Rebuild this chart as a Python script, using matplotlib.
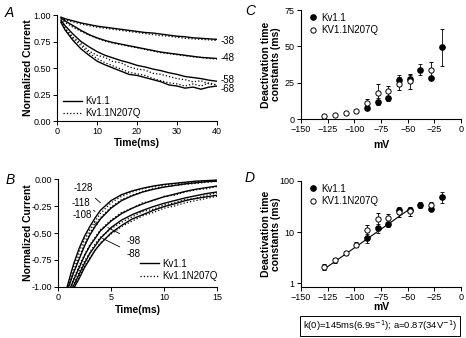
import matplotlib
matplotlib.use('Agg')
import matplotlib.pyplot as plt
from matplotlib.lines import Line2D
from matplotlib.ticker import FixedLocator, NullLocator, FixedFormatter

plt.rcParams['font.family'] = ['Liberation Sans', 'DejaVu Sans']
plt.rcParams['axes.linewidth'] = 0.8

## Panel A: inactivation traces (normalized current vs time)
tA = [1, 2, 4, 6, 8, 10, 12, 14, 16, 18, 20, 22, 24, 26, 28, 30, 32, 34, 36, 38, 40]
a38_kv = [0.98, 0.965, 0.945, 0.925, 0.91, 0.895, 0.885, 0.875, 0.865, 0.855, 0.845, 0.835, 0.83, 0.82, 0.81, 0.80, 0.795, 0.785, 0.78, 0.775, 0.77]
a38_nq = [0.975, 0.955, 0.935, 0.915, 0.90, 0.885, 0.875, 0.865, 0.855, 0.845, 0.835, 0.825, 0.815, 0.805, 0.80, 0.79, 0.78, 0.775, 0.77, 0.765, 0.76]
a48_kv = [0.97, 0.945, 0.90, 0.855, 0.815, 0.785, 0.76, 0.74, 0.725, 0.71, 0.695, 0.68, 0.665, 0.65, 0.64, 0.63, 0.62, 0.61, 0.60, 0.595, 0.59]
a48_nq = [0.965, 0.93, 0.885, 0.845, 0.81, 0.78, 0.755, 0.735, 0.72, 0.705, 0.69, 0.675, 0.66, 0.645, 0.635, 0.625, 0.615, 0.605, 0.60, 0.59, 0.585]
a58_kv = [0.95, 0.90, 0.82, 0.75, 0.70, 0.655, 0.62, 0.595, 0.57, 0.55, 0.525, 0.51, 0.49, 0.475, 0.455, 0.44, 0.42, 0.41, 0.40, 0.385, 0.375]
a58_nq = [0.94, 0.88, 0.79, 0.73, 0.66, 0.62, 0.60, 0.56, 0.55, 0.51, 0.49, 0.48, 0.45, 0.44, 0.42, 0.40, 0.39, 0.37, 0.38, 0.35, 0.34]
a68_kv = [0.93, 0.86, 0.76, 0.68, 0.62, 0.565, 0.53, 0.50, 0.47, 0.44, 0.43, 0.41, 0.39, 0.37, 0.34, 0.33, 0.31, 0.32, 0.30, 0.32, 0.33]
a68_nq = [0.94, 0.87, 0.78, 0.71, 0.64, 0.59, 0.55, 0.52, 0.49, 0.46, 0.445, 0.43, 0.40, 0.38, 0.36, 0.35, 0.33, 0.35, 0.33, 0.36, 0.34]
labelsA = ['-38', '-48', '-58', '-68']
labelsA_y = [0.755, 0.595, 0.39, 0.30]

## Panel B: deactivation tail traces
tB = [0.8, 1, 1.25, 1.5, 2, 2.5, 3, 3.5, 4, 5, 6, 7, 8, 9, 10, 11, 12, 13, 14, 15]
b128_kv = [-1.02, -0.95, -0.86, -0.78, -0.64, -0.53, -0.44, -0.36, -0.29, -0.20, -0.145, -0.11, -0.085, -0.065, -0.05, -0.04, -0.03, -0.02, -0.015, -0.01]
b128_nq = [-1.02, -0.97, -0.89, -0.81, -0.67, -0.56, -0.47, -0.39, -0.32, -0.22, -0.16, -0.12, -0.09, -0.07, -0.055, -0.045, -0.035, -0.025, -0.02, -0.012]
b118_kv = [-1.05, -1.0, -0.93, -0.86, -0.74, -0.62, -0.52, -0.44, -0.37, -0.27, -0.20, -0.155, -0.12, -0.095, -0.075, -0.06, -0.045, -0.035, -0.025, -0.02]
b118_nq = [-1.05, -0.99, -0.92, -0.85, -0.72, -0.60, -0.50, -0.42, -0.36, -0.26, -0.19, -0.15, -0.115, -0.09, -0.07, -0.06, -0.05, -0.04, -0.03, -0.02]
b108_kv = [-1.1, -1.05, -0.99, -0.93, -0.82, -0.71, -0.62, -0.55, -0.48, -0.39, -0.32, -0.27, -0.23, -0.195, -0.165, -0.14, -0.115, -0.095, -0.08, -0.065]
b108_nq = [-1.1, -1.04, -0.98, -0.92, -0.80, -0.70, -0.61, -0.54, -0.47, -0.38, -0.31, -0.27, -0.22, -0.20, -0.16, -0.15, -0.12, -0.10, -0.09, -0.07]
b98_kv = [-1.1, -1.08, -1.03, -0.98, -0.88, -0.78, -0.69, -0.62, -0.55, -0.45, -0.38, -0.33, -0.29, -0.255, -0.225, -0.20, -0.175, -0.155, -0.135, -0.12]
b98_nq = [-1.1, -1.08, -1.02, -0.97, -0.86, -0.76, -0.68, -0.60, -0.54, -0.46, -0.40, -0.35, -0.30, -0.28, -0.24, -0.22, -0.19, -0.18, -0.15, -0.13]
b88_kv = [-1.1, -1.1, -1.06, -1.01, -0.92, -0.82, -0.74, -0.66, -0.60, -0.50, -0.43, -0.37, -0.33, -0.29, -0.255, -0.23, -0.20, -0.18, -0.165, -0.15]
b88_nq = [-1.1, -1.1, -1.05, -1.0, -0.90, -0.81, -0.73, -0.66, -0.59, -0.51, -0.44, -0.39, -0.34, -0.31, -0.27, -0.25, -0.22, -0.20, -0.18, -0.16]
labelsB = ['-128', '-118', '-108', '-98', '-88']
labelsB_txt = [(2.4, -0.08), (2.2, -0.22), (2.3, -0.33), (7.1, -0.57), (7.1, -0.69)]
labelsB_tip = [(4.0, -0.22), (3.5, -0.30), (3.7, -0.42), (4.7, -0.45), (4.2, -0.55)]

## Panels C/D: deactivation time constants vs voltage
v_kv = [-88, -78, -68, -58, -48, -38, -28, -18]
tau_kv = [7.6, 11.9, 14.2, 26.6, 27.5, 34.0, 28.2, 49.3]
err_kv = [1.5, 2.5, 1.5, 4.0, 2.5, 4.0, 1.5, 12.5]
v_nq = [-128, -118, -108, -98, -88, -78, -68, -58, -48, -28]
tau_nq = [2.1, 2.8, 3.9, 5.7, 10.8, 17.9, 19.0, 24.3, 25.9, 33.5]
err_nq = [0.3, 0.3, 0.4, 0.6, 3.0, 6.0, 4.0, 4.6, 5.0, 5.5]
fit_v = [-128, -48]
fit_tau = [1.9, 28.4]
fit_text = 'k(0)=145ms(6.9s$^{-1}$); a=0.87(34V$^{-1}$)'

fig = plt.figure(figsize=(4.66, 3.38), dpi=100)
axA = fig.add_axes([0.1223, 0.642, 0.3434, 0.3136])
axB = fig.add_axes([0.1245, 0.1509, 0.3412, 0.3195])
axC = fig.add_axes([0.6459, 0.6479, 0.3434, 0.3225])
axD = fig.add_axes([0.6459, 0.1509, 0.3434, 0.3136])

tick_fs = 6.5
lab_fs = 7.5
for ax in (axA, axB, axC, axD):
    ax.spines['top'].set_visible(False)
    ax.spines['right'].set_visible(False)
    ax.tick_params(direction='out', length=3, width=0.7, labelsize=tick_fs, pad=1.5)

# A
for kv, nq in [(a38_kv, a38_nq), (a48_kv, a48_nq), (a58_kv, a58_nq), (a68_kv, a68_nq)]:
    axA.plot(tA, kv, color='black', lw=1.0)
    axA.plot(tA, nq, color='black', lw=0.9, ls=':')
for lab, y in zip(labelsA, labelsA_y):
    axA.text(40.8, y, lab, fontsize=7, va='center', ha='left', clip_on=False)
axA.plot([], [], color='black', lw=1.0, label='Kv1.1')
axA.plot([], [], color='black', lw=0.9, ls=':', label='Kv1.1N207Q')
axA.legend(loc='lower left', bbox_to_anchor=(0.0, -0.03), frameon=False, fontsize=7,
           handlelength=2.0, handletextpad=0.3, labelspacing=0.25, borderaxespad=0.2)
axA.set_xlim(0, 40)
axA.set_ylim(0, 1.0)
axA.set_xticks([0, 10, 20, 30, 40])
axA.set_yticks([0, 0.25, 0.5, 0.75, 1.0])
axA.set_yticklabels(['0.00', '0.25', '0.50', '0.75', '1.00'])
axA.set_xlabel('Time(ms)', fontsize=lab_fs, fontweight='bold', va='center')
axA.set_ylabel('Normalized Current', fontsize=lab_fs, fontweight='bold', va='center')
axA.xaxis.set_label_coords(0.5, -0.21)
axA.yaxis.set_label_coords(-0.18, 0.5)

# B
for kv, nq in [(b128_kv, b128_nq), (b118_kv, b118_nq), (b108_kv, b108_nq), (b98_kv, b98_nq), (b88_kv, b88_nq)]:
    axB.plot(tB, kv, color='black', lw=1.0)
    axB.plot(tB, nq, color='black', lw=0.9, ls=':')
for lab, txt, tip in zip(labelsB, labelsB_txt, labelsB_tip):
    axB.annotate(lab, xy=tip, xytext=txt, fontsize=7, ha='center', va='center',
                 arrowprops=dict(arrowstyle='-', lw=0.6, color='black', shrinkA=3, shrinkB=0))
axB.plot([], [], color='black', lw=1.0, label='Kv1.1')
axB.plot([], [], color='black', lw=0.9, ls=':', label='Kv1.1N207Q')
axB.legend(loc='lower right', bbox_to_anchor=(1.04, 0.0), frameon=False, fontsize=7,
           handlelength=2.0, handletextpad=0.3, labelspacing=0.25, borderaxespad=0.2)
axB.set_xlim(0, 15)
axB.set_ylim(-1.0, 0.0)
axB.set_xticks([0, 5, 10, 15])
axB.set_yticks([-1.0, -0.75, -0.5, -0.25, 0.0])
axB.set_yticklabels(['-1.00', '-0.75', '-0.50', '-0.25', '0.00'])
axB.set_xlabel('Time(ms)', fontsize=lab_fs, fontweight='bold', va='center')
axB.set_ylabel('Normalized Current', fontsize=lab_fs, fontweight='bold', va='center')
axB.xaxis.set_label_coords(0.5, -0.21)
axB.yaxis.set_label_coords(-0.19, 0.5)

# C and D
leg_handles = [Line2D([], [], marker='o', ls='none', color='black', ms=3.8),
               Line2D([], [], marker='o', ls='none', color='black', mfc='white', mew=0.7, ms=3.8)]
for ax in (axC, axD):
    ax.errorbar(v_kv, tau_kv, yerr=err_kv, fmt='o', color='black', ms=3.8,
                elinewidth=0.6, capsize=1.5, capthick=0.6, zorder=3)
    ax.errorbar(v_nq, tau_nq, yerr=err_nq, fmt='o', color='black', mfc='white', ms=3.8,
                mew=0.7, elinewidth=0.6, capsize=1.5, capthick=0.6, zorder=4)
    ax.set_xlim(-150, 0)
    ax.set_xticks([-150, -125, -100, -75, -50, -25, 0])
    ax.set_xlabel('mV', fontsize=lab_fs, fontweight='bold', va='center')
    ax.set_ylabel('Deactivation time\nconstants (ms)', fontsize=lab_fs, fontweight='bold',
                  va='center', linespacing=1.0)
    ax.yaxis.set_label_coords(-0.19, 0.5)
    ax.legend(leg_handles, ['Kv1.1', 'KV1.1N207Q'], loc='upper left', bbox_to_anchor=(0.01, 1.03),
              frameon=False, fontsize=7, handletextpad=0.3, labelspacing=0.25,
              borderaxespad=0.2, handlelength=1.0)

axC.set_ylim(0, 75)
axC.set_yticks([0, 25, 50, 75])
axC.xaxis.set_label_coords(0.5, -0.24)

axD.plot(fit_v, fit_tau, color='black', lw=0.8, zorder=2)
axD.set_yscale('log')
axD.set_ylim(0.84, 100)
axD.yaxis.set_major_locator(FixedLocator([1, 10, 100]))
axD.yaxis.set_major_formatter(FixedFormatter(['1', '10', '100']))
axD.yaxis.set_minor_locator(NullLocator())
axD.xaxis.set_label_coords(0.5, -0.19)

fig.text(0.815, 0.036, fit_text, fontsize=6.8, ha='center', va='center',
         bbox=dict(boxstyle='square,pad=0.3', fc='white', ec='black', lw=0.7))

for letter, x, y in [('A', 0.021, 0.962), ('B', 0.021, 0.467), ('C', 0.536, 0.968), ('D', 0.536, 0.474)]:
    fig.text(x, y, letter, fontsize=10, style='italic', ha='center', va='center')

fig.savefig('out.png', dpi=100)
plt.close('all')
